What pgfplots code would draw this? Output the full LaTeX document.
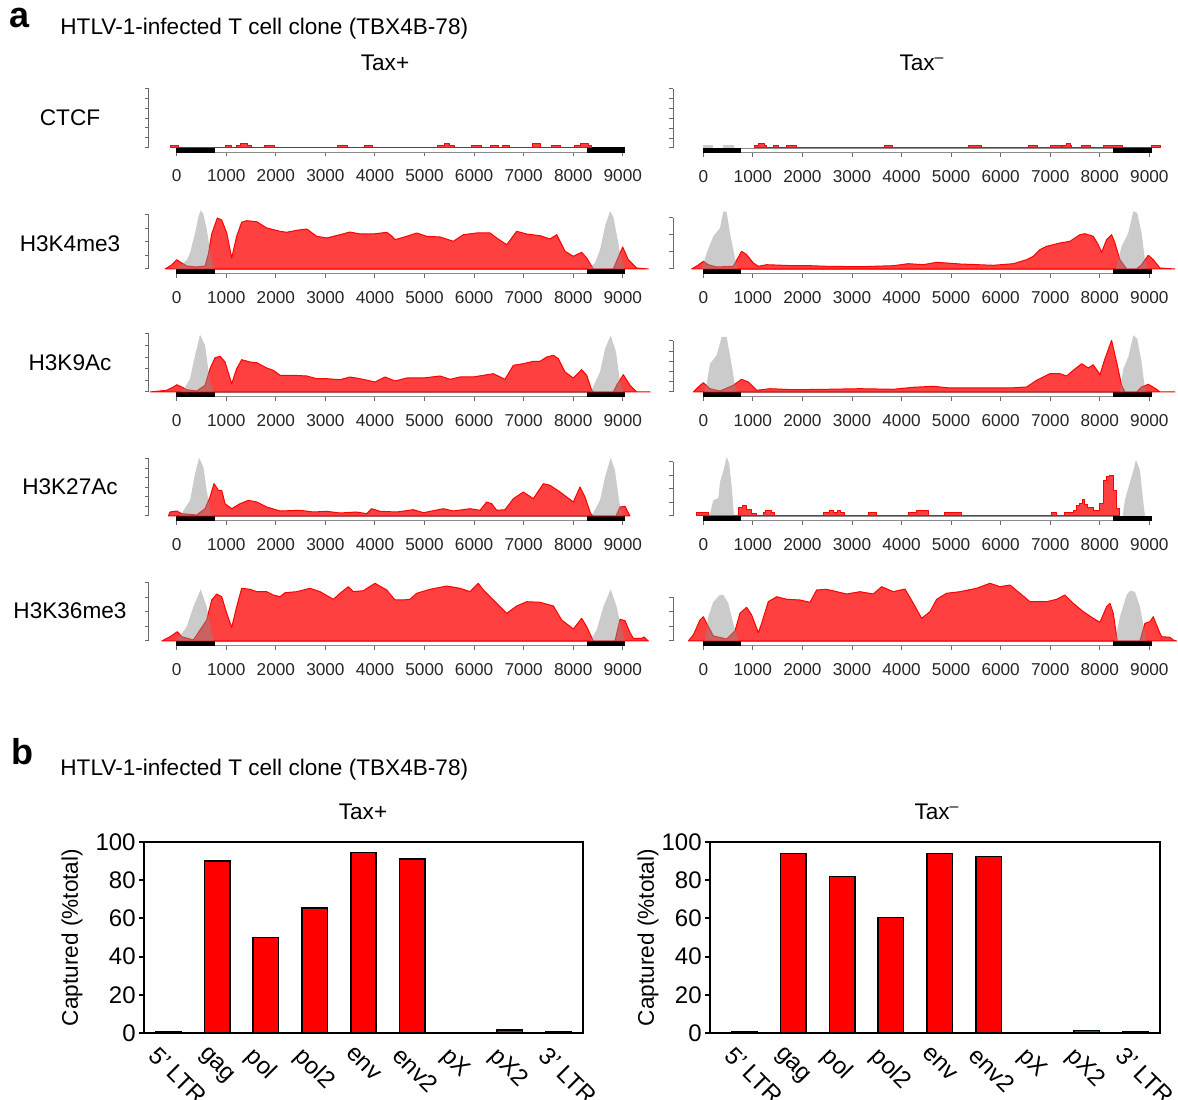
\documentclass[border=0pt]{standalone}
\usepackage{fontspec}
\setmainfont{Liberation Sans}
\usepackage{pgfplots}
\pgfplotsset{compat=1.18}
\definecolor{trackred}{RGB}{255,64,64}
\definecolor{axgray}{RGB}{105,105,105}
\definecolor{pkgray}{RGB}{140,140,140}
\newcommand\fA{\fontsize{11.3}{13.5}\selectfont}
\pgfplotsset{
 trk/.style={x=0.02478pt, y=0.5pt, anchor=south west, clip=false, enlargelimits=false,
   axis lines*=left, axis line style={draw=none}, xmax=9600, ymin=-5,
   xtick={0,1000,...,9000}, xticklabels={0,1000,2000,3000,4000,5000,6000,7000,8000,9000},
   yticklabels={}, tick align=outside, major tick length=2pt,
   tick style={draw=axgray, line width=0.5pt},
   xticklabel style={font=\fontsize{8.6}{10}\selectfont, text=black!85, yshift=-3pt},
   /pgf/number format/assume math mode=true},
 redtrk/.style={draw=red, line width=0.5pt, fill=trackred, line join=round},
 graytrk/.style={draw=none, fill=pkgray, fill opacity=0.45},
 barax/.style={anchor=south west, scale only axis, height=95.5pt, ymin=0, ymax=100, xmax=8.5,
   enlargelimits=false, axis line style={line width=1pt}, ytick={0,20,...,100}, xtick={0,...,8},
   xticklabels={5’ LTR,gag,pol,pol2,env,env2,pX,pX2,3’ LTR},
   tick pos=left, tick align=outside, major tick length=2.5pt,
   tick style={line width=1pt, black}, major x tick style={draw=none},
   yticklabel style={font=\fontsize{12}{14}\selectfont, inner sep=1.5pt},
   xticklabel style={font=\fontsize{12}{14}\selectfont, xshift=-4.5pt, yshift=-2pt, rotate=-45, anchor=north west, inner sep=1pt},
   ylabel={Captured (\%total)}, ylabel style={font=\fA},
   /pgf/number format/assume math mode=true},
 bars/.style={ybar, bar width=0.52, fill=red, draw=black, line width=0.8pt}
}
\newcommand\genome{%
 \addplot[fill=white, draw=black!45, line width=0.4pt] coordinates {(0,-4.5)(9030,-4.5)(9030,0)(0,0)} -- cycle;
 \addplot[fill=black, draw=black, line width=0.3pt] coordinates {(0,-4.5)(750,-4.5)(750,0)(0,0)} -- cycle;
 \addplot[fill=black, draw=black, line width=0.3pt] coordinates {(8280,-4.5)(9030,-4.5)(9030,0)(8280,0)} -- cycle;}
\begin{document}
\begin{tikzpicture}
\path[use as bounding box] (0,0) rectangle (589pt,549.5pt);
% labels
\node[font=\fontsize{18}{20}\selectfont\bfseries] at (10pt,540.5pt) {a};
\node[font=\fontsize{18}{20}\selectfont\bfseries] at (11pt,173.5pt) {b};
\node[anchor=west, inner sep=0pt, font=\fA] at (30pt,535pt) {HTLV-1-infected T cell clone (TBX4B-78)};
\node[anchor=west, inner sep=0pt, font=\fA] at (30pt,164.5pt) {HTLV-1-infected T cell clone (TBX4B-78)};
\node[font=\fA] at (192.5pt,518pt) {Tax+};
\node[font=\fA] at (461pt,518pt) {Tax\textsuperscript{–}};
\node[font=\fA] at (181.5pt,143.5pt) {Tax+};
\node[font=\fA] at (468.5pt,143.5pt) {Tax\textsuperscript{–}};
\node[font=\fA] at (35pt,490.5pt) {CTCF};
\node[font=\fA] at (35pt,427.5pt) {H3K4me3};
\node[font=\fA] at (35pt,368pt) {H3K9Ac};
\node[font=\fA] at (35pt,306pt) {H3K27Ac};
\node[font=\fA] at (35pt,244pt) {H3K36me3};

% ---------- Row 1 CTCF
\begin{axis}[trk, xmin=-560, at={(74.48pt,473.25pt)}, ymax=58.5, ytick={0,9.75,19.5,29.25,39,48.75,58.5}]
\genome
\addplot[redtrk] coordinates {(-130,0)(-130,2.3)(40,2.3)(40,0)(975,0)(975,2.3)(1100,2.3)(1100,0)(1205,0)(1205,2.3)(1290,2.3)(1290,3.5)(1420,3.5)(1420,2.3)(1510,2.3)(1510,0)(1765,0)(1765,2.3)(1970,2.3)(1970,0)(3250,0)(3250,2.3)(3440,2.3)(3440,0)(3780,0)(3780,2.3)(3950,2.3)(3950,0)(5265,0)(5265,2.3)(5400,2.3)(5400,3.5)(5500,3.5)(5500,2.3)(5600,2.3)(5600,0)(5945,0)(5945,2.3)(6155,2.3)(6155,0)(6325,0)(6325,2.3)(6495,2.3)(6495,0)(6580,0)(6580,2.3)(6710,2.3)(6710,0)(7175,0)(7175,3.5)(7345,3.5)(7345,0)(7555,0)(7555,2.3)(7745,2.3)(7745,0)(8025,0)(8025,2.3)(8150,2.3)(8150,3.5)(8300,3.5)(8300,2.3)(8365,2.3)(8365,0)} -- cycle;
\draw[axgray, line width=0.5pt] (axis cs:-560,0) -- (axis cs:-560,58.5);
\end{axis}
\begin{axis}[trk, xmin=-610, at={(336.54pt,473pt)}, ymax=59, ytick={0,9.83,19.67,29.5,39.33,49.17,59}]
\genome
\addplot[redtrk] coordinates {(1040,0)(1040,2.7)(1110,2.7)(1110,4.3)(1230,4.3)(1230,2.7)(1280,2.7)(1280,0)(1410,0)(1410,2.7)(1510,2.7)(1510,0)(1680,0)(1680,2.7)(1880,2.7)(1880,0)(3665,0)(3665,2.7)(3820,2.7)(3820,0)(5345,0)(5345,2.7)(5615,2.7)(5615,0)(6555,0)(6555,2.7)(6740,2.7)(6740,0)(7015,0)(7015,2.7)(7230,2.7)(7230,0)(7250,0)(7250,2.7)(7320,2.7)(7320,4.3)(7400,4.3)(7400,2.7)(7430,2.7)(7430,0)(7630,0)(7630,2.7)(7815,2.7)(7815,0)(8070,0)(8070,2.7)(8460,2.7)(8460,0)(9045,0)(9045,2.7)(9215,2.7)(9215,0)} -- cycle;
\addplot[graytrk] coordinates {(0,0)(0,2.5)(200,2.5)(200,0)} -- cycle;
\addplot[graytrk] coordinates {(390,0)(390,2.5)(620,2.5)(620,0)} -- cycle;
\draw[axgray, line width=0.5pt] (axis cs:-610,0) -- (axis cs:-610,59);
\end{axis}

% ---------- Row 2 H3K4me3
\begin{axis}[trk, xmin=-560, at={(74.48pt,412.5pt)}, ymax=54, ytick={0,13.5,27,40.5,54}]
\genome
\addplot[redtrk] coordinates {(-235,0)(-101,4)(0,9.3)(101,6)(202,3)(403,2)(572,3)(639,15)(706,35)(820,51)(908,49)(1009,36)(1110,11)(1210,32.7)(1311,46.7)(1412,48.3)(1614,47.3)(1816,41)(2085,37.7)(2219,36.7)(2421,38.7)(2623,40)(2825,32.7)(3026,31)(3295,34.3)(3497,37)(3699,35)(3968,35)(4237,36.7)(4338,33)(4405,29.3)(4640,32.7)(4842,36)(5044,32.7)(5313,32)(5582,27.7)(5784,34.3)(6053,36)(6322,36)(6456,31)(6658,24.3)(6860,37.7)(7061,35)(7331,33.3)(7532,30)(7667,34.3)(7835,17.7)(8003,12.7)(8171,16.7)(8272,11)(8406,0)(8810,0)(8877,8)(8998,22)(9112,9.3)(9281,1)(9516,0)} -- cycle;
\addplot[graytrk] coordinates {(-67,0)(67,3)(202,9)(269,16)(370,36)(437,52)(484,58.7)(538,55)(605,40)(672,19)(753,0)} -- cycle;
\addplot[graytrk] coordinates {(8305,0)(8440,6)(8541,19)(8642,42.7)(8743,57.7)(8810,52)(8877,35)(8945,16)(9025,0)} -- cycle;
\draw[axgray, line width=0.5pt] (axis cs:-560,0) -- (axis cs:-560,54);
\end{axis}
\begin{axis}[trk, xmin=-610, at={(336.54pt,412.5pt)}, ymax=51, ytick={0,17,34,51}]
\genome
\addplot[redtrk] coordinates {(-235,0)(-101,4)(0,7.7)(101,4.3)(269,2)(605,2.7)(686,10)(773,17.7)(874,14.3)(1009,6)(1110,2.7)(1278,4.3)(1816,3.3)(2152,3.3)(2488,2.7)(3161,2.3)(3833,3.3)(4136,5.3)(4439,4.3)(4708,6.7)(5178,5)(5851,3.7)(6254,5.3)(6523,9.3)(6658,12.7)(6792,19.3)(6927,22.7)(7196,26)(7398,27.7)(7599,34.3)(7700,35.3)(7868,32.7)(7969,24.3)(8036,16.7)(8137,29.3)(8238,34.3)(8305,26)(8406,9.3)(8541,0)(8743,0)(8843,4.3)(8978,13.7)(9079,9.3)(9214,1)(9516,0)} -- cycle;
\addplot[graytrk] coordinates {(-34,0)(67,16)(202,32.7)(336,41)(404,57.7)(471,56.7)(538,36)(619,16)(686,0)} -- cycle;
\addplot[graytrk] coordinates {(8326,0)(8440,22.7)(8574,36)(8675,57.7)(8756,56)(8843,36)(8911,9.3)(8958,0)} -- cycle;
\draw[axgray, line width=0.5pt] (axis cs:-610,0) -- (axis cs:-610,51);
\end{axis}

% ---------- Row 3 H3K9Ac
\begin{axis}[trk, xmin=-560, at={(74.48pt,351pt)}, ymax=58, ytick={0,11.6,23.2,34.8,46.4,58}]
\genome
\addplot[redtrk] coordinates {(-538,0)(-202,1.7)(-67,5)(0,7.3)(101,5)(202,2.3)(403,1)(572,6.7)(672,23.3)(773,34.3)(874,35.7)(975,30)(1110,8.3)(1210,23.3)(1311,32.3)(1480,30)(1614,29.3)(1816,24)(1950,21.7)(2085,16.7)(2354,16.7)(2623,16)(2825,13.3)(3026,13.3)(3295,12.3)(3497,15)(3699,13.3)(4001,10)(4203,15)(4405,11)(4640,14)(4977,14)(5313,16)(5515,12.7)(5716,15)(5985,15)(6187,16.7)(6389,18.3)(6624,12.7)(6792,26.7)(6994,28.3)(7196,30.7)(7331,30.7)(7465,35)(7600,36.7)(7700,33.3)(7835,20)(8003,14)(8171,22.3)(8272,16.7)(8373,1.7)(8420,0)(8810,0)(8877,6.7)(9011,17.3)(9146,6.7)(9281,0)(9550,0)} -- cycle;
\addplot[graytrk] coordinates {(67,0)(134,1.7)(269,13.3)(370,36.7)(471,57.3)(572,46.7)(672,10)(753,0)} -- cycle;
\addplot[graytrk] coordinates {(8352,0)(8541,20)(8642,43)(8756,56.7)(8864,40)(8945,10)(9011,0)} -- cycle;
\draw[axgray, line width=0.5pt] (axis cs:-560,0) -- (axis cs:-560,58);
\end{axis}
\begin{axis}[trk, xmin=-610, at={(336.54pt,351pt)}, ymax=51, ytick={0,10.2,20.4,30.6,40.8,51}]
\genome
\addplot[redtrk] coordinates {(-202,0)(-101,5)(0,9.3)(134,3.3)(336,1)(605,6.7)(773,12.7)(908,10)(1076,1.7)(1345,3.3)(1816,2.3)(2488,2.7)(3161,3.3)(3833,2.7)(4237,4.7)(4640,5.7)(4977,4)(5514,4)(6187,4)(6523,5)(6725,11.7)(6994,18.3)(7196,18.3)(7331,16)(7465,21.7)(7633,28.3)(7767,24)(7868,27.3)(8003,17.3)(8104,33.3)(8238,51.7)(8339,30)(8440,6.7)(8507,0)(8743,0)(8843,5)(8978,7.7)(9146,2.7)(9214,0)(9516,0)} -- cycle;
\addplot[graytrk] coordinates {(13,0)(67,8)(134,28.3)(269,36.7)(370,55)(471,55)(551,33.3)(639,6.7)(686,0)} -- cycle;
\addplot[graytrk] coordinates {(8406,0)(8474,23.3)(8574,35)(8675,56.7)(8756,53.3)(8843,30)(8911,3.3)(8945,0)} -- cycle;
\draw[axgray, line width=0.5pt] (axis cs:-610,0) -- (axis cs:-610,51);
\end{axis}

% ---------- Row 4 H3K27Ac
\begin{axis}[trk, xmin=-560, at={(74.48pt,289pt)}, ymax=57, ytick={0,9.5,19,28.5,38,47.5,57}]
\genome
\addplot[redtrk] coordinates {(-168,0)(-134,4)(0,5)(101,2.3)(403,1)(572,7.3)(672,19)(753,32.3)(841,25.7)(908,25.7)(975,12.3)(1110,7.3)(1278,12.3)(1446,15.7)(1614,14)(1816,9)(2085,5)(2488,5.7)(2757,4)(3026,4.7)(3295,3)(3632,4)(3833,2.3)(3934,7.3)(4102,4.7)(4439,4)(4775,6.3)(4977,3.3)(5380,7.3)(5582,5)(5918,7.3)(6120,5.7)(6254,14)(6355,12.3)(6456,5.7)(6624,6.3)(6792,17.3)(6994,24)(7196,17.3)(7398,32.3)(7532,30.7)(7734,24)(8003,14)(8137,29)(8238,19)(8352,2.3)(8406,0)(8864,0)(8945,9)(9045,9.7)(9146,0)} -- cycle;
\addplot[graytrk] coordinates {(67,0)(269,15.7)(370,42.3)(451,58.3)(538,49)(605,25.7)(686,2.3)(740,0)} -- cycle;
\addplot[graytrk] coordinates {(8373,0)(8541,15.7)(8642,39)(8756,58.3)(8843,45.7)(8924,15.7)(8991,0)} -- cycle;
\draw[axgray, line width=0.5pt] (axis cs:-560,0) -- (axis cs:-560,57);
\end{axis}
\begin{axis}[trk, xmin=-610, at={(336.54pt,289pt)}, ymax=54, ytick={0,13.5,27,40.5,54}]
\genome
\addplot[redtrk] coordinates {(-134,0)(-134,3.3)(101,3.3)(101,0)(706,0)(706,8.3)(800,8.3)(800,10.7)(874,10.7)(874,6.3)(975,6.3)(975,2.3)(1076,2.3)(1076,0)(1210,0)(1210,3.3)(1260,3.3)(1260,5.7)(1380,5.7)(1380,3.3)(1446,3.3)(1446,0)(2421,0)(2421,3.3)(2550,3.3)(2550,5.7)(2620,5.7)(2620,3.3)(2700,3.3)(2700,5.7)(2770,5.7)(2770,3.3)(2858,3.3)(2858,0)(3329,0)(3329,3.3)(3497,3.3)(3497,0)(4136,0)(4136,3.3)(4300,3.3)(4300,5.7)(4540,5.7)(4540,0)(4876,0)(4876,3.3)(5212,3.3)(5212,0)(7028,0)(7028,3.3)(7129,3.3)(7129,0)(7297,0)(7297,3.3)(7460,3.3)(7460,5.7)(7530,5.7)(7530,10.7)(7600,10.7)(7600,12.3)(7650,12.3)(7650,16.3)(7700,16.3)(7700,11.7)(7760,11.7)(7760,8.3)(7870,8.3)(7870,5.7)(8000,5.7)(8000,12.3)(8070,12.3)(8070,35.7)(8140,35.7)(8140,39)(8205,39)(8205,40.7)(8270,40.7)(8270,25.7)(8340,25.7)(8340,7.3)(8406,7.3)(8406,0)} -- cycle;
\addplot[graytrk] coordinates {(67,0)(134,2)(202,15.7)(303,18)(336,34)(404,45)(471,59)(524,52)(572,30)(619,0)} -- cycle;
\addplot[graytrk] coordinates {(8460,0)(8507,16)(8608,34)(8675,45)(8729,56.3)(8810,45.7)(8864,20)(8911,0)} -- cycle;
\draw[axgray, line width=0.5pt] (axis cs:-610,0) -- (axis cs:-610,54);
\end{axis}

% ---------- Row 5 H3K36me3
\begin{axis}[trk, xmin=-560, at={(74.48pt,226.5pt)}, ymax=58, ytick={0,14.5,29,43.5,58}]
\genome
\addplot[redtrk] coordinates {(-303,0)(-134,4.3)(13,9.3)(101,4.3)(336,1)(605,21)(706,41)(807,47)(908,44.3)(1009,27.7)(1110,13.7)(1210,34.3)(1311,52.7)(1480,51.7)(1614,49.3)(1816,49.3)(1950,46)(2085,44.3)(2186,48.3)(2421,49.3)(2690,52.7)(2892,49.3)(3161,41.7)(3295,47.7)(3463,54.3)(3564,49.3)(3766,50.3)(4001,57.7)(4237,51)(4405,41)(4573,41)(4708,41.7)(4842,47.7)(5111,51.7)(5447,55)(5716,52.7)(5918,49.3)(6086,57.7)(6187,51)(6389,41)(6523,34.3)(6658,27.7)(6860,35)(7061,39.3)(7331,38.7)(7600,35)(7767,21)(8003,12)(8171,22.7)(8272,14.3)(8406,0)(8843,0)(8945,21.7)(9045,20.3)(9146,8.3)(9214,2.7)(9382,2.7)(9429,4)(9516,0)} -- cycle;
\addplot[graytrk] coordinates {(-34,0)(67,5)(202,14.3)(336,34.3)(484,51.7)(605,34.3)(706,7.7)(753,0)} -- cycle;
\addplot[graytrk] coordinates {(8339,0)(8474,11)(8608,34.3)(8756,51.7)(8877,34.3)(8978,11)(9045,0)} -- cycle;
\draw[axgray, line width=0.5pt] (axis cs:-560,0) -- (axis cs:-560,58);
\end{axis}
\begin{axis}[trk, xmin=-610, at={(336.54pt,226.5pt)}, ymax=43.5, ytick={0,14.5,29,43.5}]
\genome
\addplot[redtrk] coordinates {(-303,0)(-202,6)(-67,21)(0,24.3)(67,17.7)(202,5)(471,2)(639,10)(740,27.7)(874,33.7)(975,26)(1110,8.3)(1177,17.7)(1311,39.3)(1480,44.3)(1681,41.7)(1950,41)(2152,38.7)(2287,51)(2488,51.7)(2892,47)(3161,49.3)(3430,47)(3598,54.3)(3833,49.3)(4069,52)(4237,37.7)(4405,22.7)(4573,29.3)(4708,41.7)(4909,47.7)(5178,49.3)(5514,52.7)(5784,57.7)(5985,54.3)(6187,56)(6389,47.7)(6591,39.3)(6927,39.3)(7129,41.7)(7297,46)(7465,37.7)(7667,29.3)(7868,22.7)(8003,18.7)(8137,34.3)(8205,37.7)(8272,27.7)(8353,0)(8810,0)(8911,17.7)(9012,19.3)(9079,24.3)(9146,16)(9214,7.7)(9248,4.3)(9415,3.7)(9483,1)(9550,0)} -- cycle;
\addplot[graytrk] coordinates {(34,0)(101,24.3)(202,39.3)(336,46)(404,46)(504,37.7)(605,17.7)(706,0)} -- cycle;
\addplot[graytrk] coordinates {(8305,0)(8406,24.3)(8541,46)(8608,50.3)(8709,49.3)(8810,34.3)(8911,7.7)(8945,0)} -- cycle;
\draw[axgray, line width=0.5pt] (axis cs:-610,0) -- (axis cs:-610,43.5);
\end{axis}

% ---------- Panel b
\begin{axis}[barax, at={(72pt,33pt)}, width=219.5pt, xmin=-0.5, ylabel shift=1.5pt]
\addplot[bars] coordinates {(0,0.8)(1,90)(2,50)(3,65.5)(4,94.5)(5,91)(6,0)(7,1.6)(8,0.8)};
\end{axis}
\begin{axis}[barax, at={(355pt,33pt)}, width=225pt, xmin=-0.7, ylabel shift=-3.5pt]
\addplot[bars] coordinates {(0,0.7)(1,94)(2,82)(3,60.5)(4,94)(5,92.5)(6,0)(7,1.4)(8,0.7)};
\end{axis}
\end{tikzpicture}
\end{document}
